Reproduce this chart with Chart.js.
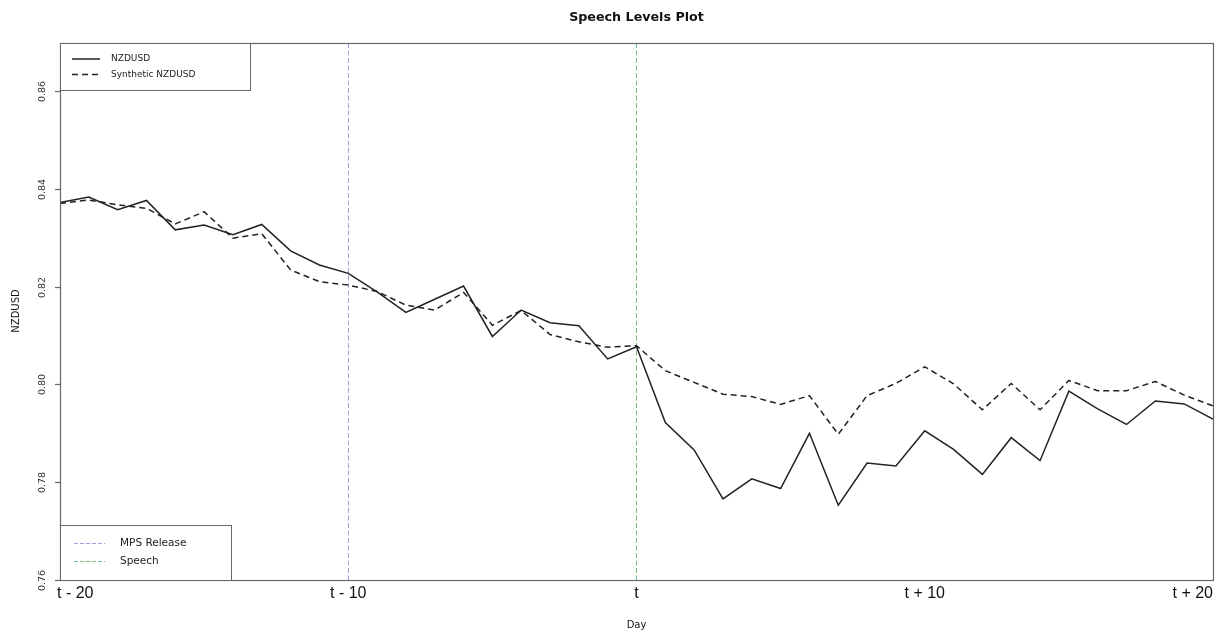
<!DOCTYPE html>
<html>
<head>
<meta charset="utf-8">
<script src="https://cdn.jsdelivr.net/npm/chart.js@4.4.1/dist/chart.umd.min.js"></script>
<style>
  html, body { margin: 0; padding: 0; background: #fff; }
  #wrap { width: 1217px; height: 631px; }
</style>
</head>
<body>
<div id="wrap"><canvas id="myChart" width="1217" height="631"></canvas></div>
<script>
// days relative to the speech (t = 0)
const days = [];
for (let d = -20; d <= 20; d++) days.push(d);

const nzdusd = [
  0.8372, 0.8383, 0.8357, 0.8376, 0.8316, 0.8326, 0.8306, 0.8327, 0.8273, 0.8244,
  0.8227, 0.8189, 0.8147, 0.8174, 0.8201, 0.8098, 0.8152, 0.8126, 0.8120, 0.8052,
  0.8077, 0.7922, 0.7866, 0.7766, 0.7807, 0.7787, 0.7900, 0.7753, 0.7839, 0.7833,
  0.7905, 0.7867, 0.7816, 0.7891, 0.7844, 0.7986, 0.7950, 0.7918, 0.7966, 0.7960,
  0.7929
];
const synthetic = [
  0.8370, 0.8377, 0.8367, 0.8360, 0.8328, 0.8353, 0.8299, 0.8308, 0.8234, 0.8210,
  0.8203, 0.8190, 0.8162, 0.8152, 0.8188, 0.8121, 0.8151, 0.8102, 0.8087, 0.8076,
  0.8079, 0.8028, 0.8004, 0.7980, 0.7975, 0.7959, 0.7977, 0.7898, 0.7977, 0.8002,
  0.8036, 0.8001, 0.7948, 0.8002, 0.7948, 0.8008, 0.7987, 0.7987, 0.8006, 0.7978,
  0.7956
];

const yTicks = [0.76, 0.78, 0.80, 0.82, 0.84, 0.86];
const xTicks = [-20, -10, 0, 10, 20];
const xTickLabels = ["t - 20", "t - 10", "t", "t + 10", "t + 20"];
const mpsDay = -10;
const speechDay = 0;

const purple = "#b295dc";
const green = "#70c083";

// R style frame, ticks, labels, event lines and legends
const rStyle = {
  id: "rStyle",
  beforeDatasetsDraw(chart) {
    const ctx = chart.ctx;
    const a = chart.chartArea;
    const x = chart.scales.x;
    ctx.save();
    ctx.lineWidth = 1;
    ctx.setLineDash([5, 2.5]);
    [[mpsDay, purple], [speechDay, green]].forEach(([d, c]) => {
      const px = Math.floor(x.getPixelForValue(d)) + 0.5;
      ctx.strokeStyle = c;
      ctx.beginPath();
      ctx.moveTo(px, a.top);
      ctx.lineTo(px, a.bottom);
      ctx.stroke();
    });
    ctx.restore();
  },
  afterDraw(chart) {
    const ctx = chart.ctx;
    const a = chart.chartArea;
    const x = chart.scales.x;
    const y = chart.scales.y;
    ctx.save();

    // box
    ctx.strokeStyle = "#666";
    ctx.lineWidth = 1.2;
    ctx.strokeRect(a.left + 0.5, a.top + 0.5, a.right - a.left, a.bottom - a.top);

    // y ticks + rotated labels
    ctx.fillStyle = "#333";
    ctx.font = "9.5px 'DejaVu Sans'";
    yTicks.forEach(v => {
      const py = Math.round(y.getPixelForValue(v)) + 0.5;
      ctx.beginPath();
      ctx.moveTo(a.left - 5, py);
      ctx.lineTo(a.left, py);
      ctx.stroke();
      ctx.save();
      ctx.translate(45, py);
      ctx.rotate(-Math.PI / 2);
      ctx.textAlign = "center";
      ctx.textBaseline = "alphabetic";
      ctx.fillText(v.toFixed(2), 0, 0);
      ctx.restore();
    });

    // x tick labels
    ctx.fillStyle = "#111";
    ctx.font = "16px 'Liberation Sans'";
    ctx.textBaseline = "alphabetic";
    xTicks.forEach((d, i) => {
      const px = x.getPixelForValue(d);
      if (i === 0) { ctx.textAlign = "left"; ctx.fillText(xTickLabels[i], px - 3, 598); }
      else if (i === xTicks.length - 1) { ctx.textAlign = "right"; ctx.fillText(xTickLabels[i], px, 598); }
      else { ctx.textAlign = "center"; ctx.fillText(xTickLabels[i], px, 598); }
    });

    // titles
    ctx.fillStyle = "#111";
    ctx.textAlign = "center";
    ctx.font = "bold 12.7px 'DejaVu Sans'";
    ctx.fillText("Speech Levels Plot", (a.left + a.right) / 2, 21);
    ctx.font = "10px 'DejaVu Sans'";
    ctx.fillText("Day", (a.left + a.right) / 2, 628);
    ctx.save();
    ctx.translate(19, 311);
    ctx.rotate(-Math.PI / 2);
    ctx.fillText("NZDUSD", 0, 0);
    ctx.restore();

    // top legend
    ctx.strokeStyle = "#666";
    ctx.lineWidth = 1;
    ctx.fillStyle = "#fff";
    ctx.fillRect(a.left, a.top, 190, 47);
    ctx.strokeRect(a.left + 0.5, a.top + 0.5, 190, 47);
    ctx.strokeStyle = "#222";
    ctx.lineWidth = 1.5;
    ctx.beginPath(); ctx.moveTo(72, 59); ctx.lineTo(100, 59); ctx.stroke();
    ctx.setLineDash([6, 4]);
    ctx.beginPath(); ctx.moveTo(72, 74.5); ctx.lineTo(100, 74.5); ctx.stroke();
    ctx.setLineDash([]);
    ctx.fillStyle = "#222";
    ctx.textAlign = "left";
    ctx.textBaseline = "middle";
    ctx.font = "9px 'DejaVu Sans'";
    ctx.fillText("NZDUSD", 111, 59);
    ctx.fillText("Synthetic NZDUSD", 111, 74.5);

    // bottom legend
    ctx.strokeStyle = "#666";
    ctx.lineWidth = 1;
    ctx.fillStyle = "#fff";
    ctx.fillRect(a.left, 525, 171, a.bottom - 525);
    ctx.strokeRect(a.left + 0.5, 525.5, 171, a.bottom - 525);
    ctx.lineWidth = 1;
    ctx.setLineDash([4, 2]);
    ctx.strokeStyle = purple;
    ctx.beginPath(); ctx.moveTo(74, 543.5); ctx.lineTo(105, 543.5); ctx.stroke();
    ctx.strokeStyle = green;
    ctx.beginPath(); ctx.moveTo(74, 561.5); ctx.lineTo(105, 561.5); ctx.stroke();
    ctx.setLineDash([]);
    ctx.fillStyle = "#222";
    ctx.font = "10.5px 'DejaVu Sans'";
    ctx.fillText("MPS Release", 120, 543.5);
    ctx.fillText("Speech", 120, 561.5);

    ctx.restore();
  }
};

new Chart(document.getElementById("myChart"), {
  type: "line",
  data: {
    labels: days,
    datasets: [
      {
        label: "NZDUSD",
        data: days.map((d, i) => ({ x: d, y: nzdusd[i] })),
        borderColor: "#222",
        borderWidth: 1.5,
        pointRadius: 0,
        tension: 0,
        fill: false
      },
      {
        label: "Synthetic NZDUSD",
        data: days.map((d, i) => ({ x: d, y: synthetic[i] })),
        borderColor: "#222",
        borderWidth: 1.5,
        borderDash: [6, 4],
        pointRadius: 0,
        tension: 0,
        fill: false
      }
    ]
  },
  options: {
    responsive: false,
    animation: false,
    layout: { padding: { left: 60, top: 43, right: 4, bottom: 51 } },
    scales: {
      x: { type: "linear", min: -20, max: 20, display: false },
      y: { type: "linear", min: 0.76, max: 0.8698, display: false }
    },
    plugins: {
      legend: { display: false },
      title: { display: false },
      tooltip: { enabled: false }
    }
  },
  plugins: [rStyle]
});
</script>
</body>
</html>
